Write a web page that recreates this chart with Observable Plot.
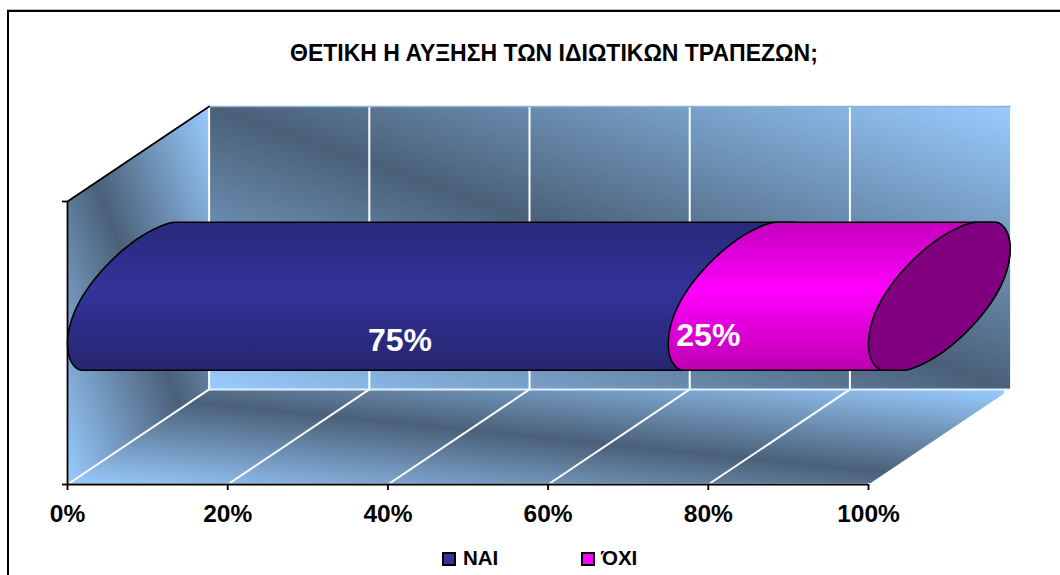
<!DOCTYPE html>
<html>
<head>
<meta charset="utf-8">
<script src="https://cdn.jsdelivr.net/npm/d3@7"></script>
<script src="https://cdn.jsdelivr.net/npm/@observablehq/plot@0.6"></script>
<style>
  html, body { margin: 0; padding: 0; background: #fff; overflow: hidden; height: 575px; }
  body { position: relative; font-family: "Liberation Sans", Arial, sans-serif; color: #000; }
  #frame { position: absolute; left: 7px; top: 10px; width: 1060px; height: 600px;
           border-left: 2px solid #000; border-top: 2px solid #000; box-shadow: 0 -1px 0 #b8b8b8; }
  #title { position: relative; height: 90px; box-sizing: border-box; padding-top: 40px; padding-left: 290px;
           font-size: 23px; line-height: 26px; font-weight: bold; white-space: nowrap; }
  #chart { position: relative; height: 445px; }
  #chart svg { display: block; overflow: visible; }
  #legend { position: relative; height: 40px; }
  #legend .s { position: absolute; top: 17px; width: 10px; height: 10px; border: 2px solid #000; }
  #legend .t { position: absolute; top: 11px; font-size: 20.5px; line-height: 24px; font-weight: bold; }
</style>
</head>
<body>
<div id="frame"></div>
<div id="title"></div>
<div id="chart"></div>
<div id="legend"></div>
<script>
const chartTitle = "ΘΕΤΙΚΗ Η ΑΥΞΗΣΗ ΤΩΝ ΙΔΙΩΤΙΚΩΝ ΤΡΑΠΕΖΩΝ;";
const categories = ["ΝΑΙ", "ΌΧΙ"];
const shares = [75, 25];
const shareLabels = ["75%", "25%"];
const tickValues = [0, 20, 40, 60, 80, 100];

// 3D box: a depth of 1 shifts a point right along x and up along y, in data units
const depthX = 17.68, depthY = 0.336;
const project = (x, h, d) => ({x: x + depthX * d, y: h + depthY * d});
const barH = 0.497, barR = 0.205, barHalf = 0.2615;

const poly = corners => corners.map(([x, h, d]) => project(x, h, d));
const backWall = poly([[0,0,1],[100,0,1],[100,1,1],[0,1,1]]);
const floor = poly([[0,0,0],[100,0,0],[100,0,0.955],[99.3,0,1],[0,0,1]]);
const sideWall = poly([[0,0,0],[0,1,0],[0,1,1],[0,0,1]]);

const tTop = Math.atan2(barR, depthY / 2);
const midH = barH + depthY / 2;
const arc = (x, from, to, n = 40) => d3.range(n + 1).map(i => {
  const t = from + (to - from) * i / n;
  const u = Math.cos(t);
  // the end caps are slightly squarer than a true ellipse
  const w = Math.sin(t) * (1 + 0.12 * u * u * u * u);
  const p = project(x, barH + barR * w, 0.5 + 0.5 * u);
  return {x: p.x, y: Math.max(midH - barHalf, Math.min(midH + barHalf, p.y))};
});
const starts = d3.cumsum([0, ...shares]);
const bars = categories.map((c, i) => {
  const x0 = starts[i], x1 = starts[i + 1];
  const left = arc(x0, tTop, tTop + Math.PI), right = arc(x1, tTop + Math.PI, tTop + 2 * Math.PI);
  return [...left, ...right, left[0]];
});
const endCap = arc(100, tTop, tTop + 2 * Math.PI, 80);

const line = (pts, o) => Plot.line(pts, {x: "x", y: "y", ...o});
const seg = (a, b, o) => line([a, b], o);

const labelAt = [{x: 41.5, y: 0.509, text: shareLabels[0]}, {x: 80, y: 0.526, text: shareLabels[1]}];

const plot = Plot.plot({
  width: 1060, height: 445,
  marginLeft: 67, marginRight: 192, marginTop: 111, marginBottom: 51,
  x: {domain: [0, 100], label: null},
  y: {domain: [0, 1], label: null},
  style: {background: "transparent", color: "#000", fontFamily: '"Liberation Sans", Arial, sans-serif', overflow: "visible"},
  marks: [
    line(backWall, {fill: "url(#wall)", stroke: "none"}),
    line(floor, {fill: "url(#wall)", stroke: "none"}),
    line(sideWall, {fill: "url(#wall)", stroke: "none"}),
    // walls' grid
    ...tickValues.slice(0, -1).flatMap(v => [
      seg(project(v, 0, 1), project(v, 1, 1), {stroke: "#fff", strokeWidth: 2}),
      seg(project(v, 0, 0), project(v, 0, 1), {stroke: "#fff", strokeWidth: 2})
    ]),
    seg(project(0, 1, 1), project(100, 1, 1), {stroke: "#8fb4d6", strokeWidth: 1.5}),
    seg(project(0, 0, 1), project(100, 0, 1), {stroke: "#e2f0ff", strokeWidth: 2}),
    seg(project(0, 0, 0.01), project(100, 0, 0.01), {stroke: "#fff", strokeWidth: 1.2}),
    // axes
    Plot.ruleX([0], {y1: 0, y2: 1, stroke: "#000", strokeWidth: 1.8}),
    Plot.ruleY([0], {x1: 0, x2: 100, stroke: "#000", strokeWidth: 2}),
    seg(project(0, 1, 0), project(0, 1, 1), {stroke: "#000", strokeWidth: 1.8}),
    Plot.axisY([0, 1], {tickSize: 5, tickFormat: () => "", strokeWidth: 1.8, label: null}),
    Plot.axisX(tickValues, {
      tickSize: 6, tickPadding: 14, strokeWidth: 1.8, label: null,
      tickFormat: d => d + "%", fontSize: 24.5, fontWeight: "bold"
    }),
    // the stacked cylinder
    ...bars.map((pts, i) => line(pts, {fill: `url(#bar${i})`, stroke: "#000", strokeWidth: 1.6})),
    line(endCap, {fill: "#800080", stroke: "#000", strokeWidth: 1.6}),
    Plot.text(labelAt, {x: "x", y: "y", text: "text", fill: "#fff", fontSize: 32, fontWeight: "bold"})
  ]
});

// gradients used by the walls and the cylinder
const defs = d3.select(plot).insert("defs", ":first-child");
const gradient = (id, attrs, stops) => {
  const g = defs.append("linearGradient").attr("id", id);
  Object.entries(attrs).forEach(([k, v]) => g.attr(k, v));
  stops.forEach(([o, c]) => g.append("stop").attr("offset", o).attr("stop-color", c));
};
gradient("wall", {x1: 0, y1: 1, x2: 1, y2: 0}, [[0, "#99ccff"], [0.5, "#4a6078"], [1, "#99ccff"]]);
gradient("bar0", {x1: 0, y1: 0, x2: 0, y2: 1}, [[0, "#29297a"], [0.45, "#333399"], [1, "#262670"]]);
gradient("bar1", {x1: 0, y1: 0, x2: 0, y2: 1}, [[0, "#c400bc"], [0.45, "#ff00ff"], [1, "#bd00b0"]]);

document.getElementById("chart").append(plot);
document.getElementById("title").textContent = chartTitle;

const legendColors = ["#333399", "#ff00ff"];
const legendSwatchLeft = [442, 581], legendTextLeft = [463, 601];
const legend = d3.select("#legend");
categories.forEach((c, i) => {
  legend.append("div").attr("class", "s").style("left", legendSwatchLeft[i] + "px").style("background", legendColors[i]);
  legend.append("div").attr("class", "t").style("left", legendTextLeft[i] + "px").text(c);
});
</script>
</body>
</html>
